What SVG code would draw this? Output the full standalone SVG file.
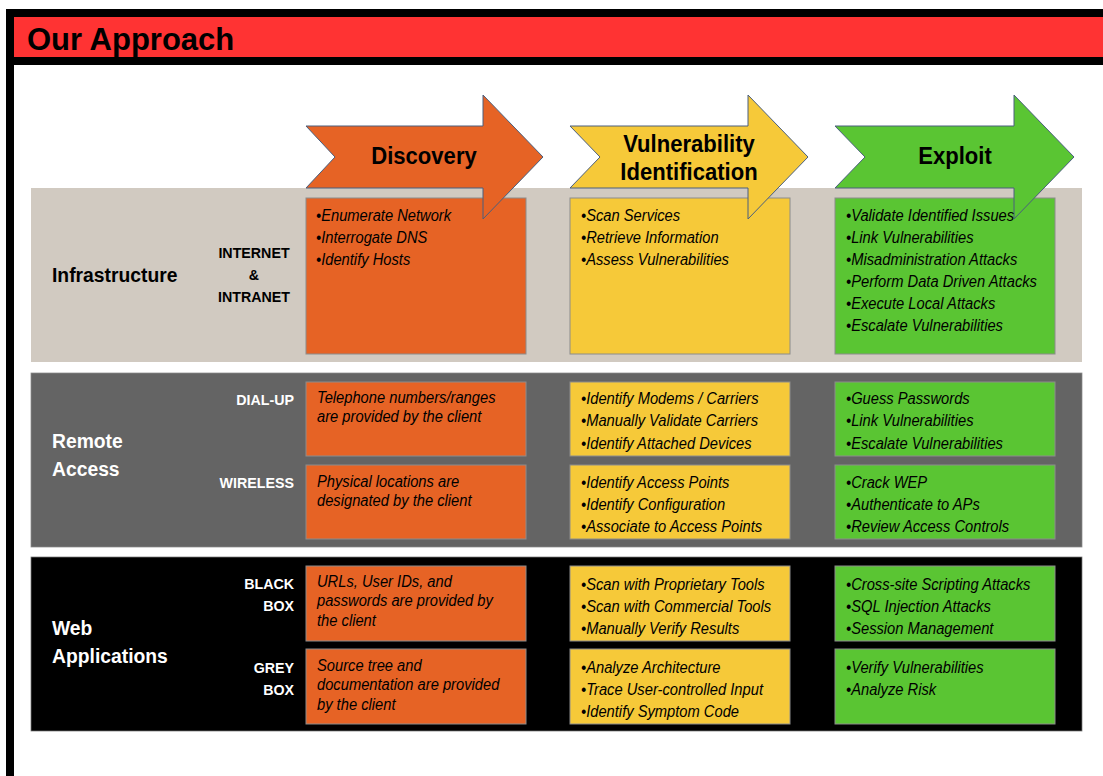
<svg xmlns="http://www.w3.org/2000/svg" width="1103" height="776" viewBox="0 0 1103 776">
<style>
text{font-family:"Liberation Sans",Arial,sans-serif}
.t{font-size:16px;font-style:italic;fill:#000}
.h{font-size:24px;font-weight:bold;fill:#000;text-anchor:middle}
.rl{font-size:21px;font-weight:bold}
.sl{font-size:15.5px;font-weight:bold}
.box{stroke:#8c8c8c;stroke-width:1}
.o{fill:#E66325}
.y{fill:#F6C939}
.g{fill:#5AC533}
.arr{stroke:#4a5f7e;stroke-width:1}
.w{fill:#fff}
.k{fill:#000}
</style>
<rect x="0" y="0" width="1103" height="776" fill="#fff"/>
<g id="frame">
<rect x="10" y="13" width="1110" height="800" fill="#fff" stroke="#000" stroke-width="8"/>
<rect x="14" y="17" width="1100" height="40" fill="#FF3333"/>
<rect x="14" y="57" width="1100" height="8" fill="#000"/>
<text x="27" y="50" font-size="31" font-weight="bold" fill="#000">Our Approach</text>
</g>
<g id="row-infrastructure">
<rect x="31" y="188" width="1051" height="174" fill="#D1CAC1"/>
<text class="rl k" transform="translate(52,282) scale(.92,1)">Infrastructure</text>
<text class="sl k" text-anchor="middle" transform="translate(254,258) scale(.92,1)"><tspan x="0" y="0">INTERNET</tspan><tspan x="0" y="22">&amp;</tspan><tspan x="0" y="44">INTRANET</tspan></text>
</g>
<g id="row-remote">
<rect x="31" y="373" width="1051" height="174" fill="#646464" stroke="#8a8a8a" stroke-width="0.75"/>
<text class="rl w" transform="translate(52,448) scale(.92,1)"><tspan x="0" y="0">Remote</tspan><tspan x="0" y="28">Access</tspan></text>
<text class="sl w" text-anchor="end" transform="translate(294,405) scale(.92,1)">DIAL-UP</text>
<text class="sl w" text-anchor="end" transform="translate(294,488) scale(.92,1)">WIRELESS</text>
</g>
<g id="row-web">
<rect x="31" y="557" width="1051" height="174" fill="#000" stroke="#777" stroke-width="0.75"/>
<text class="rl w" transform="translate(52,635) scale(.92,1)"><tspan x="0" y="0">Web</tspan><tspan x="0" y="28">Applications</tspan></text>
<text class="sl w" text-anchor="end" transform="translate(294,589) scale(.92,1)"><tspan x="0" y="0">BLACK</tspan><tspan x="0" y="22">BOX</tspan></text>
<text class="sl w" text-anchor="end" transform="translate(294,673) scale(.92,1)"><tspan x="0" y="0">GREY</tspan><tspan x="0" y="22">BOX</tspan></text>
</g>
<g id="boxes">
<rect class="box o" x="306" y="198" width="220" height="156"/>
<rect class="box y" x="570" y="198" width="220" height="156"/>
<rect class="box g" x="835" y="198" width="220" height="156"/>
<rect class="box o" x="306" y="382" width="220" height="74"/>
<rect class="box y" x="570" y="382" width="220" height="74"/>
<rect class="box g" x="835" y="382" width="220" height="74"/>
<rect class="box o" x="306" y="465" width="220" height="74"/>
<rect class="box y" x="570" y="465" width="220" height="74"/>
<rect class="box g" x="835" y="465" width="220" height="74"/>
<rect class="box o" x="306" y="566" width="220" height="75"/>
<rect class="box y" x="570" y="566" width="220" height="75"/>
<rect class="box g" x="835" y="566" width="220" height="75"/>
<rect class="box o" x="306" y="649" width="220" height="75"/>
<rect class="box y" x="570" y="649" width="220" height="75"/>
<rect class="box g" x="835" y="649" width="220" height="75"/>
</g>
<g id="arrow-discovery">
<polygon class="arr o" points="306,126 483,126 483,95 543,157 483,219 483,188 306,188 335,157"/>
<text class="h" transform="translate(424,164) scale(.92,1)">Discovery</text>
</g>
<g id="arrow-vulnerability">
<polygon class="arr y" points="570,126 748,126 748,95 808,157 748,219 748,188 570,188 600,157"/>
<text class="h" transform="translate(689,152) scale(.92,1)"><tspan x="0" y="0">Vulnerability</tspan><tspan x="0" y="28">Identification</tspan></text>
</g>
<g id="arrow-exploit">
<polygon class="arr g" points="835,126 1014,126 1014,95 1074,157 1014,219 1014,188 835,188 865,157"/>
<text class="h" transform="translate(955,164) scale(.92,1)">Exploit</text>
</g>
<g id="infra-discovery"><text class="t" transform="translate(316,221) scale(.92,1)"><tspan x="0" y="0">•Enumerate Network</tspan><tspan x="0" y="22">•Interrogate DNS</tspan><tspan x="0" y="44">•Identify Hosts</tspan></text></g>
<g id="infra-vuln"><text class="t" transform="translate(581,221) scale(.92,1)"><tspan x="0" y="0">•Scan Services</tspan><tspan x="0" y="22">•Retrieve Information</tspan><tspan x="0" y="44">•Assess Vulnerabilities</tspan></text></g>
<g id="infra-exploit"><text class="t" transform="translate(846,221) scale(.92,1)"><tspan x="0" y="0">•Validate Identified Issues</tspan><tspan x="0" y="22">•Link Vulnerabilities</tspan><tspan x="0" y="44">•Misadministration Attacks</tspan><tspan x="0" y="66">•Perform Data Driven Attacks</tspan><tspan x="0" y="88">•Execute Local Attacks</tspan><tspan x="0" y="110">•Escalate Vulnerabilities</tspan></text></g>
<g id="dialup-discovery"><text class="t" transform="translate(317,403) scale(.92,1)"><tspan x="0" y="0">Telephone numbers/ranges</tspan><tspan x="0" y="19">are provided by the client</tspan></text></g>
<g id="dialup-vuln"><text class="t" transform="translate(581,404) scale(.92,1)"><tspan x="0" y="0">•Identify Modems / Carriers</tspan><tspan x="0" y="22.3">•Manually Validate Carriers</tspan><tspan x="0" y="44.6">•Identify Attached Devices</tspan></text></g>
<g id="dialup-exploit"><text class="t" transform="translate(846,404) scale(.92,1)"><tspan x="0" y="0">•Guess Passwords</tspan><tspan x="0" y="22.3">•Link Vulnerabilities</tspan><tspan x="0" y="44.6">•Escalate Vulnerabilities</tspan></text></g>
<g id="wireless-discovery"><text class="t" transform="translate(317,487) scale(.92,1)"><tspan x="0" y="0">Physical locations are</tspan><tspan x="0" y="19">designated by the client</tspan></text></g>
<g id="wireless-vuln"><text class="t" transform="translate(581,488) scale(.92,1)"><tspan x="0" y="0">•Identify Access Points</tspan><tspan x="0" y="22">•Identify Configuration</tspan><tspan x="0" y="44">•Associate to Access Points</tspan></text></g>
<g id="wireless-exploit"><text class="t" transform="translate(846,488) scale(.92,1)"><tspan x="0" y="0">•Crack WEP</tspan><tspan x="0" y="22">•Authenticate to APs</tspan><tspan x="0" y="44">•Review Access Controls</tspan></text></g>
<g id="blackbox-discovery"><text class="t" transform="translate(317,587) scale(.92,1)"><tspan x="0" y="0">URLs, User IDs, and</tspan><tspan x="0" y="19.5">passwords are provided by</tspan><tspan x="0" y="39">the client</tspan></text></g>
<g id="blackbox-vuln"><text class="t" transform="translate(581,590) scale(.92,1)"><tspan x="0" y="0">•Scan with Proprietary Tools</tspan><tspan x="0" y="22">•Scan with Commercial Tools</tspan><tspan x="0" y="44">•Manually Verify Results</tspan></text></g>
<g id="blackbox-exploit"><text class="t" transform="translate(846,590) scale(.92,1)"><tspan x="0" y="0">•Cross-site Scripting Attacks</tspan><tspan x="0" y="22">•SQL Injection Attacks</tspan><tspan x="0" y="44">•Session Management</tspan></text></g>
<g id="greybox-discovery"><text class="t" transform="translate(317,671) scale(.92,1)"><tspan x="0" y="0">Source tree and</tspan><tspan x="0" y="19.3">documentation are provided</tspan><tspan x="0" y="38.6">by the client</tspan></text></g>
<g id="greybox-vuln"><text class="t" transform="translate(581,673) scale(.92,1)"><tspan x="0" y="0">•Analyze Architecture</tspan><tspan x="0" y="22">•Trace User-controlled Input</tspan><tspan x="0" y="44">•Identify Symptom Code</tspan></text></g>
<g id="greybox-exploit"><text class="t" transform="translate(846,673) scale(.92,1)"><tspan x="0" y="0">•Verify Vulnerabilities</tspan><tspan x="0" y="22">•Analyze Risk</tspan></text></g>
</svg>
